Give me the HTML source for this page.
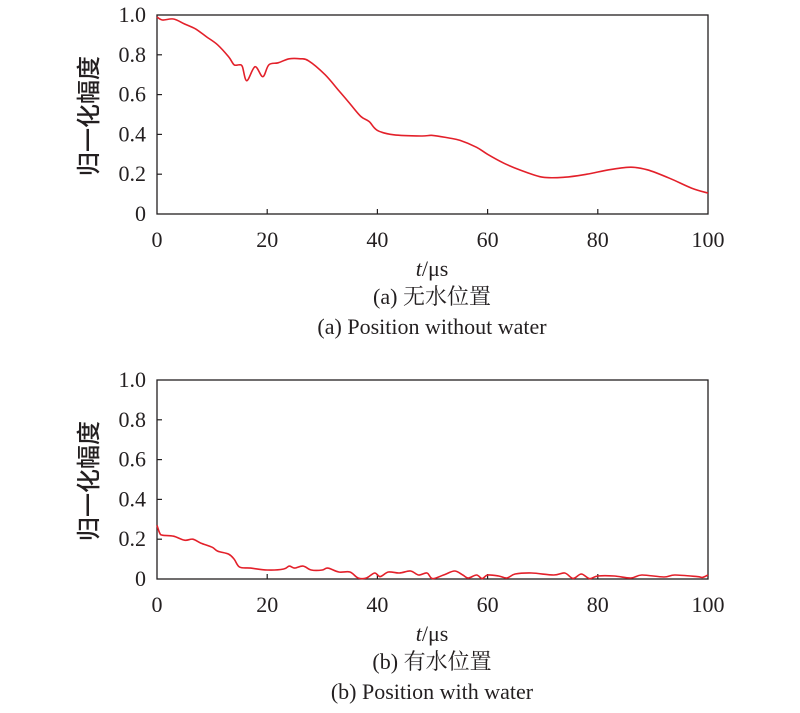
<!DOCTYPE html>
<html><head><meta charset="utf-8"><style>
html,body{margin:0;padding:0;background:#fff;width:800px;height:713px;overflow:hidden}
svg text{fill:#231f20}
.tk{font-family:"Liberation Serif",serif;font-size:22px}
.cn{font-family:"Liberation Serif","Noto Serif CJK SC",serif;font-size:22px}
.yl{font-family:"Noto Sans CJK SC",sans-serif;font-size:24px;font-weight:500}
</style></head><body>
<svg id="s" width="800" height="713" xmlns="http://www.w3.org/2000/svg">
<g id="p1"></g><g id="p2"></g>
<text class="tk" x="432" y="276" text-anchor="middle"><tspan font-style="italic">t</tspan>/μs</text>
<text class="cn" x="432" y="304" text-anchor="middle">(a) 无水位置</text>
<text class="tk" x="432" y="334" text-anchor="middle">(a) Position without water</text>
<text class="tk" x="432" y="641" text-anchor="middle"><tspan font-style="italic">t</tspan>/μs</text>
<text class="cn" x="432" y="669" text-anchor="middle">(b) 有水位置</text>
<text class="tk" x="432" y="699" text-anchor="middle">(b) Position with water</text>
<text class="yl" transform="translate(97,116) rotate(-90)" text-anchor="middle">归一化幅度</text>
<text class="yl" transform="translate(97,481) rotate(-90)" text-anchor="middle">归一化幅度</text>
</svg>
<script>
var NS="http://www.w3.org/2000/svg";
function el(g,n,a,t){var e=document.createElementNS(NS,n);for(var k in a)e.setAttribute(k,a[k]);if(t!==undefined)e.textContent=t;g.appendChild(e);return e;}
function smooth(p){var d="M"+p[0][0].toFixed(1)+","+p[0][1].toFixed(1);for(var i=0;i<p.length-1;i++){var p0=p[i-1]||p[i],p1=p[i],p2=p[i+1],p3=p[i+2]||p2;
d+=" C"+(p1[0]+(p2[0]-p0[0])/6).toFixed(1)+","+(p1[1]+(p2[1]-p0[1])/6).toFixed(1)+" "+(p2[0]-(p3[0]-p1[0])/6).toFixed(1)+","+(p2[1]-(p3[1]-p1[1])/6).toFixed(1)+" "+p2[0].toFixed(1)+","+p2[1].toFixed(1);}return d;}
function plot(id,y0,data){var g=document.getElementById(id);var X0=157,X1=708,sy=199,yt=y0-sy;
var sx=(X1-X0)/100;
el(g,"rect",{x:X0,y:yt,width:X1-X0,height:sy,fill:"none",stroke:"#231f20","stroke-width":1.3});
for(var i=0;i<=5;i++){var x=X0+i*20*sx;
if(i>0&&i<5)el(g,"line",{x1:x,y1:y0,x2:x,y2:y0-5,stroke:"#231f20","stroke-width":1.2});
el(g,"text",{x:x,y:y0+33,"text-anchor":"middle","class":"tk"},String(i*20));
var y=y0-i*0.2*sy;
if(i>0&&i<5)el(g,"line",{x1:X0,y1:y,x2:X0+5,y2:y,stroke:"#231f20","stroke-width":1.2});
el(g,"text",{x:146,y:y+7,"text-anchor":"end","class":"tk"},i==0?"0":(i==5?"1.0":(i*0.2).toFixed(1)));}
var p=data.map(function(d){return [X0+d[0]*sx,y0-d[1]*sy];});
el(g,"path",{d:smooth(p),fill:"none",stroke:"#e3202a","stroke-width":1.6});}
plot("p1",214,[[0,0.99],[1,0.975],[3,0.98],[5,0.955],[7,0.93],[9,0.89],[11,0.85],[13,0.79],[14,0.75],[15,0.75],[15.5,0.74],[16.3,0.67],[17.8,0.74],[19.2,0.69],[20.3,0.75],[22,0.76],[24,0.78],[26,0.78],[27.5,0.77],[30.5,0.7],[33,0.62],[35,0.555],[37,0.49],[38.5,0.465],[40,0.42],[43,0.398],[48,0.392],[50,0.395],[53,0.382],[55,0.37],[58,0.335],[60,0.3],[63,0.255],[66,0.22],[70,0.185],[74,0.185],[78,0.2],[82,0.222],[86,0.235],[89,0.222],[93,0.18],[97,0.13],[100,0.105]]);
plot("p2",579,[[0,0.27],[0.5,0.23],[1,0.22],[3,0.215],[5,0.195],[6.5,0.2],[8,0.18],[10,0.16],[11,0.14],[13,0.125],[14,0.1],[15,0.06],[17,0.055],[20,0.045],[23,0.05],[24,0.065],[25,0.055],[26.5,0.065],[28,0.045],[30,0.045],[31,0.055],[33,0.035],[35,0.035],[36.5,0.005],[38,0.005],[39.5,0.03],[40.5,0.012],[42,0.035],[44,0.03],[46,0.04],[47.5,0.02],[49,0.03],[50,0.002],[52,0.02],[54,0.04],[55.5,0.02],[56.5,0.005],[58,0.02],[59,0.002],[60,0.02],[62,0.015],[63.5,0.005],[65,0.025],[68,0.03],[72,0.02],[74,0.03],[75.5,0.003],[77,0.025],[78.5,0.002],[80,0.015],[83,0.015],[86,0.005],[88,0.02],[92,0.01],[94,0.02],[98,0.012],[99,0.008],[100,0.02]]);
</script>
</body></html>
